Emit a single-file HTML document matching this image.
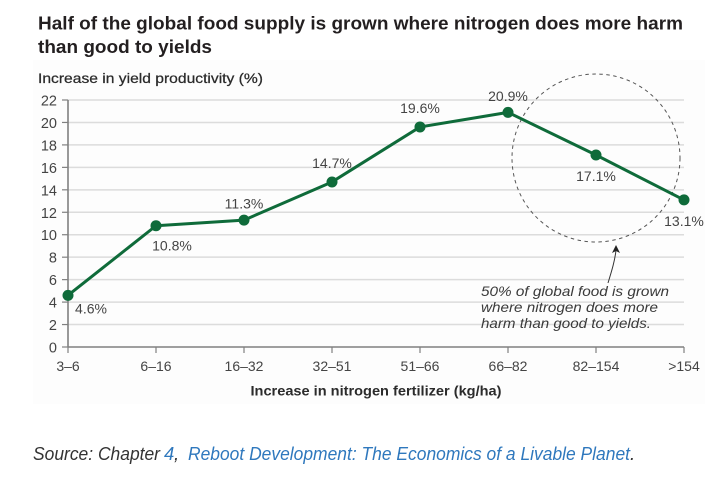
<!DOCTYPE html>
<html lang="en">
<head>
<meta charset="utf-8">
<title>Half of the global food supply</title>
<style>
html,body{margin:0;padding:0;background:#fff;width:723px;height:496px;overflow:hidden}
svg{display:block;font-family:"Liberation Sans",sans-serif}
a{cursor:pointer}
</style>
</head>
<body>
<svg id="chart" xmlns="http://www.w3.org/2000/svg" width="723" height="496" viewBox="0 0 723 496">
  <rect x="33" y="60" width="672" height="344" fill="#fdfdfd"/>
  <text x="38" y="29.5" font-size="18.5" font-weight="700" fill="#231f20" textLength="645" lengthAdjust="spacingAndGlyphs">Half of the global food supply is grown where nitrogen does more harm</text>
  <text x="38" y="53" font-size="18.5" font-weight="700" fill="#231f20" textLength="174" lengthAdjust="spacingAndGlyphs">than good to yields</text>
  <text x="38" y="83" font-size="14" fill="#2b2b2b" stroke="#2b2b2b" stroke-width="0.25" textLength="225" lengthAdjust="spacingAndGlyphs">Increase in yield productivity (%)</text>
  <g id="grid"></g>
  <g id="axes"></g>
  <circle cx="596" cy="158" r="84" fill="none" stroke="#555" stroke-width="1" stroke-dasharray="3.5 3.5"/>
  <g id="series"></g>
  <path d="M608 283 C612 270 615 260 616 250" fill="none" stroke="#333" stroke-width="1"/>
  <path d="M616 245 L620 253 L616 251 L612 253 Z" fill="#222"/>
  <g font-size="14" font-style="italic" fill="#3a3a3a">
    <text x="481" y="296" textLength="188" lengthAdjust="spacingAndGlyphs">50% of global food is grown</text>
    <text x="481" y="312" textLength="177" lengthAdjust="spacingAndGlyphs">where nitrogen does more</text>
    <text x="481" y="328" textLength="170" lengthAdjust="spacingAndGlyphs">harm than good to yields.</text>
  </g>
  <text x="376" y="395.5" text-anchor="middle" font-size="13.5" font-weight="700" fill="#2b2b2b" textLength="251" lengthAdjust="spacingAndGlyphs">Increase in nitrogen fertilizer (kg/ha)</text>
  <g font-size="18.5" font-style="italic">
    <text x="33" y="460" fill="#333" textLength="127" lengthAdjust="spacingAndGlyphs">Source: Chapter</text>
    <a><text x="164" y="460" fill="#2f78bd">4</text></a>
    <text x="174" y="460" fill="#333">,</text>
    <a><text x="188" y="460" fill="#2f78bd" textLength="442" lengthAdjust="spacingAndGlyphs">Reboot Development: The Economics of a Livable Planet</text></a>
    <text x="630" y="460" fill="#333">.</text>
  </g>
</svg>
<script>
const categories = ['3–6','6–16','16–32','32–51','51–66','66–82','82–154','>154'];
const yieldValues = [4.6,10.8,11.3,14.7,19.6,20.9,17.1,13.1];
const yTicks = [0,2,4,6,8,10,12,14,16,18,20,22];
const labelPlacements = ['right','below-right','above-near','above','above','above-near','below','below'];

const NS = 'http://www.w3.org/2000/svg';
const plot = {left:68,right:684,top:100,bottom:347,yMax:22};
function xScale(i){ return plot.left + i*(plot.right-plot.left)/(categories.length-1); }
function yScale(v){ return plot.bottom - v*(plot.bottom-plot.top)/plot.yMax; }
function make(tag, parent, attrs, text){
  const el = document.createElementNS(NS, tag);
  for (const k in attrs) el.setAttribute(k, attrs[k]);
  if (text !== undefined) el.textContent = text;
  parent.appendChild(el);
  return el;
}
function labelPos(i){
  const x = xScale(i), y = yScale(yieldValues[i]);
  const p = labelPlacements[i];
  if (p === 'right') return {x:x+23, y:y+18};
  if (p === 'below-right') return {x:x+16, y:y+25};
  if (p === 'below') return {x:x, y:y+26};
  if (p === 'above-near') return {x:x, y:y-11.5};
  return {x:x, y:y-14};
}

const grid = document.getElementById('grid');
const axes = document.getElementById('axes');
const series = document.getElementById('series');

yTicks.forEach(function(t){
  if (t !== 0) {
    const line = make('line', grid, {x1:plot.left,x2:plot.right,y1:yScale(t),y2:yScale(t),stroke:'#dcdcdc','stroke-width':1.5});
    
    
  }
  const tick = make('line', axes, {x1:plot.left-6,x2:plot.left,y1:yScale(t),y2:yScale(t),stroke:'#808080','stroke-width':1.2});
  
  
  const label = make('text', axes, {x:plot.left-11,y:yScale(t)+5.5,'text-anchor':'end','font-size':14.5,fill:'#444'}, String(t));
  
  
});

const yAxis = make('line', axes, {x1:plot.left,x2:plot.left,y1:plot.top,y2:plot.bottom,stroke:'#808080','stroke-width':1.6});


const xAxis = make('line', axes, {x1:plot.left,x2:plot.right,y1:plot.bottom,y2:plot.bottom,stroke:'#808080','stroke-width':1.6});



categories.forEach(function(c,i){
  const tick = make('line', axes, {x1:xScale(i),x2:xScale(i),y1:plot.bottom,y2:plot.bottom+6,stroke:'#808080','stroke-width':1.2});
  
  
  const label = make('text', axes, {x:xScale(i),y:371,'text-anchor':'middle','font-size':14,fill:'#444'}, c);
  
  
});

const points = yieldValues.map(function(v,i){ return xScale(i)+','+yScale(v); }).join(' ');
const trend = make('polyline', series, {points:points,fill:'none',stroke:'#0f6b3a','stroke-width':3,'stroke-linejoin':'round'});



yieldValues.forEach(function(v,i){
  const dot = make('circle', series, {cx:xScale(i),cy:yScale(v),r:5.5,fill:'#0f6b3a'});
  
  
  const pos = labelPos(i);
  const label = make('text', series, {x:pos.x,y:pos.y,'text-anchor':'middle','font-size':14,fill:'#444'}, v.toFixed(1)+'%');
  
  
});
</script>
</body>
</html>
